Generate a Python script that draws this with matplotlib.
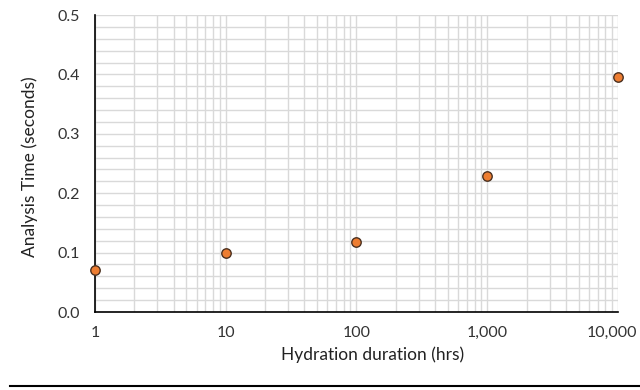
import matplotlib
matplotlib.use("Agg")
import matplotlib.pyplot as plt
from matplotlib.ticker import FixedLocator, FuncFormatter, MultipleLocator, LogLocator, NullFormatter
from matplotlib.lines import Line2D
from matplotlib.transforms import ScaledTranslation

plt.rcParams['font.family'] = ['Lato', 'DejaVu Sans']

hours = [1, 10, 100, 1000, 10000]
analysis_time = [0.070, 0.100, 0.118, 0.229, 0.395]
x_tick_labels = ["1", "10", "100", "1,000", "10,000"]

fig = plt.figure(figsize=(6.4, 3.9), dpi=100)
ax = fig.add_axes([0.1484, 0.2, 0.8172, 0.7615])

ax.set_xscale('log')
ax.set_xlim(1, 10000)
ax.set_ylim(0, 0.5)

ax.xaxis.set_major_locator(FixedLocator(hours))
ax.xaxis.set_major_formatter(FuncFormatter(lambda v, p: x_tick_labels[hours.index(int(round(v)))] if int(round(v)) in hours else ""))
ax.xaxis.set_minor_locator(LogLocator(base=10, subs=range(2, 10), numticks=20))
ax.xaxis.set_minor_formatter(NullFormatter())
ax.yaxis.set_major_locator(MultipleLocator(0.1))
ax.yaxis.set_minor_locator(MultipleLocator(0.02))
ax.yaxis.set_major_formatter(FuncFormatter(lambda v, p: f"{v:.1f}"))

ax.grid(True, which='both', color='#d9d9d9', linewidth=1.0)
ax.set_axisbelow(True)
for s in ['top', 'right']:
    ax.spines[s].set_visible(False)
for s in ['left', 'bottom']:
    ax.spines[s].set_color('black')
    ax.spines[s].set_linewidth(1.2)

ax.tick_params(which='both', length=0)
ax.tick_params(axis='x', pad=10, labelsize=11.5, colors='#333333')
ax.tick_params(axis='y', pad=11, labelsize=11.5, colors='#333333')

ax.scatter(hours, analysis_time, s=46, color='#ED7D31', edgecolors='#4a3020',
           linewidths=1.0, zorder=5, clip_on=False)

ax.set_xlabel("Hydration duration (hrs)", fontsize=12.5, color='#222222')
ax.set_ylabel("Analysis Time (seconds)", fontsize=12.5, color='#222222')
ax.xaxis.set_label_coords(0.53, -0.145)
ax.yaxis.set_label_coords(-0.124, 0.49)
ax.xaxis.label.set_va('center')
ax.yaxis.label.set_va('center')

# keep the last x tick label inside the figure
fig.canvas.draw()
last = ax.get_xticklabels()[-1]
last.set_transform(last.get_transform() + ScaledTranslation(-6/100, 0, fig.dpi_scale_trans))

fig.add_artist(Line2D([10/640, 1.0], [1 - 386/390, 1 - 386/390], color='black', linewidth=1.5))

fig.savefig("out.png", dpi=100)
